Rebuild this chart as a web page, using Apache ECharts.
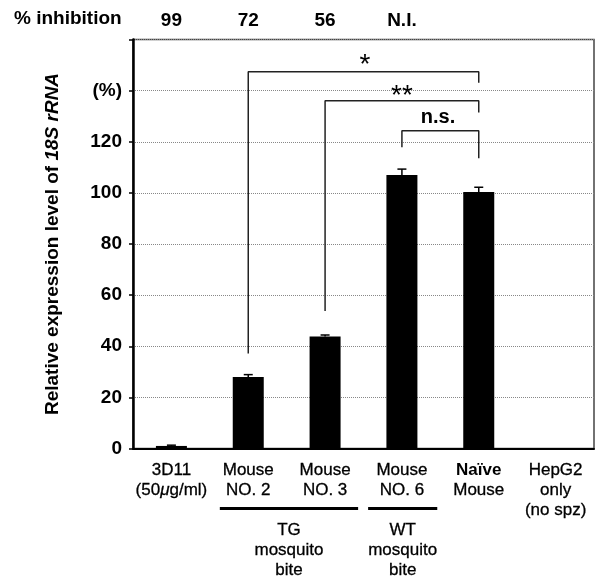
<!DOCTYPE html>
<html>
<head>
<meta charset="utf-8">
<script src="https://cdn.jsdelivr.net/npm/echarts@6/dist/echarts.min.js"></script>
<style>
  html, body { margin: 0; padding: 0; background: #fff; }
  #chart { width: 601px; height: 580px; }
</style>
</head>
<body>
<div id="chart"></div>
<script>
const categories = ['3D11\n(50μg/ml)', 'Mouse\nNO. 2', 'Mouse\nNO. 3', 'Mouse\nNO. 6', 'Naïve\nMouse', 'HepG2\nonly\n(no spz)']
const expression = [1.0, 28, 43.8, 107, 100.3, 0]
const errors = [0.3, 0.9, 0.6, 2.3, 1.9, 0]
const inhibition = ['99', '72', '56', 'N.I.', '', '']
const yTickLabels = ['0', '20', '40', '60', '80', '100', '120', '(%)', '']

// significance brackets: [category index, value]
const bracketStar = [[1, 37.2], [1, 147.4], [4, 147.4], [4, 143.1]]
const bracketDouble = [[2, 53.8], [2, 136], [4, 136], [4, 131.4]]
const bracketNs = [[3, 117.8], [3, 124.3], [4, 124.3], [4, 113.5]]
const sigLabels = ['*', '**', 'n.s.']
const sigPositions = [[2.52, 152.7], [3.0, 140.5], [3.47, 129.6]]

// mosquito groups under the axis
const groupNames = ['TG\nmosquito\nbite', 'WT\nmosquito\nbite']
const groupSpans = [[0.63, 2.43], [2.56, 3.46]]

const FONT = '"Liberation Sans", Arial, Helvetica, sans-serif'
const chart = echarts.init(document.getElementById('chart'), null, { renderer: 'canvas' })

// scanned print looks a bit heavier than plain regular text
const ink = { color: '#000', textBorderColor: '#000', textBorderWidth: 0.3 }
const labelRich = {
  a: { fontSize: 17, fontFamily: FONT, lineHeight: 20, ...ink },
  i: { fontSize: 17, fontFamily: FONT, lineHeight: 20, fontStyle: 'italic', ...ink },
  b: { fontSize: 17, fontFamily: FONT, lineHeight: 20, fontWeight: 'bold', color: '#000' },
}

function formatCategory(v) {
  return v.split('\n').map((line) => {
    if (line === 'Naïve') return '{b|Naïve}'
    if (line.includes('μ')) {
      const [pre, post] = line.split('μ')
      return '{a|' + pre + '}{i|μ}{a|' + post + '}'
    }
    return '{a|' + line + '}'
  }).join('\n')
}

const bracketStyle = { color: '#222', width: 1.5 }
const bracketSeries = [bracketStar, bracketDouble, bracketNs].map((pts) => ({
  type: 'line',
  xAxisIndex: 1,
  yAxisIndex: 0,
  data: pts,
  showSymbol: false,
  symbol: 'none',
  lineStyle: bracketStyle,
  silent: true,
  z: 5,
}))

chart.setOption({
  animation: false,
  backgroundColor: '#fff',
  textStyle: { fontFamily: FONT },
  grid: {
    left: 133, right: 7, top: 39.5, bottom: 131.5,
    show: true, borderColor: '#444', borderWidth: 1.5,
    backgroundColor: 'transparent',
    outerBoundsMode: 'none',
  },
  xAxis: [
    {
      type: 'category',
      data: categories,
      boundaryGap: true,
      axisLine: { onZero: false, lineStyle: { color: '#000', width: 2 } },
      axisTick: { show: false },
      splitLine: { show: false },
      axisLabel: {
        interval: 0,
        margin: 12,
        formatter: formatCategory,
        rich: labelRich,
      },
    },
    {
      type: 'value',
      min: -0.5,
      max: 5.5,
      show: false,
    },
    {
      type: 'category',
      data: categories,
      position: 'top',
      axisLine: { show: false, onZero: false },
      axisTick: { show: false },
      splitLine: { show: false },
      axisLabel: {
        interval: 0,
        margin: 9,
        formatter: (v, i) => inhibition[i],
        fontSize: 19,
        fontWeight: 'bold',
        fontFamily: FONT,
        color: '#000',
      },
    },
  ],
  yAxis: {
    type: 'value',
    min: 0,
    max: 160,
    interval: 20,
    name: '{n|Relative expression level of }{it|18S rRNA}',
    nameLocation: 'middle',
    nameGap: 71,
    nameTextStyle: {
      rich: {
        n: { fontSize: 19, fontWeight: 'bold', fontFamily: FONT, color: '#000' },
        it: { fontSize: 19, fontWeight: 'bold', fontStyle: 'italic', fontFamily: FONT, color: '#000' },
      },
    },
    axisLine: { show: true, onZero: false, lineStyle: { color: '#000', width: 2.5 } },
    axisTick: { show: true, inside: false, length: 4, lineStyle: { color: '#000', width: 1.5 } },
    axisLabel: {
      margin: 11,
      fontSize: 19,
      fontWeight: 'bold',
      fontFamily: FONT,
      color: '#000',
      formatter: (v) => yTickLabels[Math.round(v / 20)],
    },
    splitLine: { show: true, lineStyle: { color: '#888', type: 'dotted', width: 1 } },
  },
  series: [
    {
      type: 'bar',
      xAxisIndex: 0,
      yAxisIndex: 0,
      data: expression,
      barWidth: 31,
      itemStyle: { color: '#000' },
      silent: true,
      z: 3,
    },
    {
      type: 'custom',
      xAxisIndex: 0,
      yAxisIndex: 0,
      data: expression.map((v, i) => [i, v, errors[i]]),
      encode: { x: 0, y: 1 },
      silent: true,
      z: 4,
      renderItem: (params, api) => {
        const err = api.value(2)
        if (!err) return null
        const base = api.coord([api.value(0), api.value(1)])
        const top = api.coord([api.value(0), api.value(1) + err])
        const style = { stroke: '#000', lineWidth: 1.5 }
        return {
          type: 'group',
          children: [
            { type: 'line', shape: { x1: base[0], y1: base[1], x2: top[0], y2: top[1] }, style },
            { type: 'line', shape: { x1: top[0] - 4.5, y1: top[1], x2: top[0] + 4.5, y2: top[1] }, style },
          ],
        }
      },
    },
    ...bracketSeries,
    {
      type: 'scatter',
      xAxisIndex: 1,
      yAxisIndex: 0,
      symbolSize: 0,
      silent: true,
      itemStyle: { opacity: 1 },
      z: 6,
      data: sigPositions.map((p, i) => ({
        value: p,
        label: {
          show: true,
          position: 'inside',
          formatter: sigLabels[i],
          color: '#000',
          fontFamily: FONT,
          fontSize: sigLabels[i] === 'n.s.' ? 20 : 28,
          fontWeight: sigLabels[i] === 'n.s.' ? 'bold' : 'normal',
          offset: sigLabels[i] === 'n.s.' ? [0, 0] : [0, 7],
        },
      })),
    },
  ],
})

// group underlines and captions below the category labels
const axisY = chart.convertToPixel({ yAxisIndex: 0 }, 0)
const graphics = [
  {
    type: 'text',
    left: 14,
    top: 9,
    style: { text: '% inhibition', font: 'bold 19px ' + FONT, fill: '#000' },
  },
]
groupSpans.forEach((span, i) => {
  const x1 = chart.convertToPixel({ xAxisIndex: 1 }, span[0])
  const x2 = chart.convertToPixel({ xAxisIndex: 1 }, span[1])
  graphics.push({
    type: 'line',
    shape: { x1, y1: axisY + 60, x2, y2: axisY + 60 },
    style: { stroke: '#000', lineWidth: 3 },
  })
  graphics.push({
    type: 'text',
    x: (x1 + x2) / 2,
    y: axisY + 72,
    style: {
      text: groupNames[i],
      font: '17px ' + FONT,
      lineHeight: 20,
      fill: '#000',
      stroke: '#000',
      lineWidth: 0.3,
      align: 'center',
      verticalAlign: 'top',
    },
  })
})
chart.setOption({ graphic: graphics })
</script>
</body>
</html>
